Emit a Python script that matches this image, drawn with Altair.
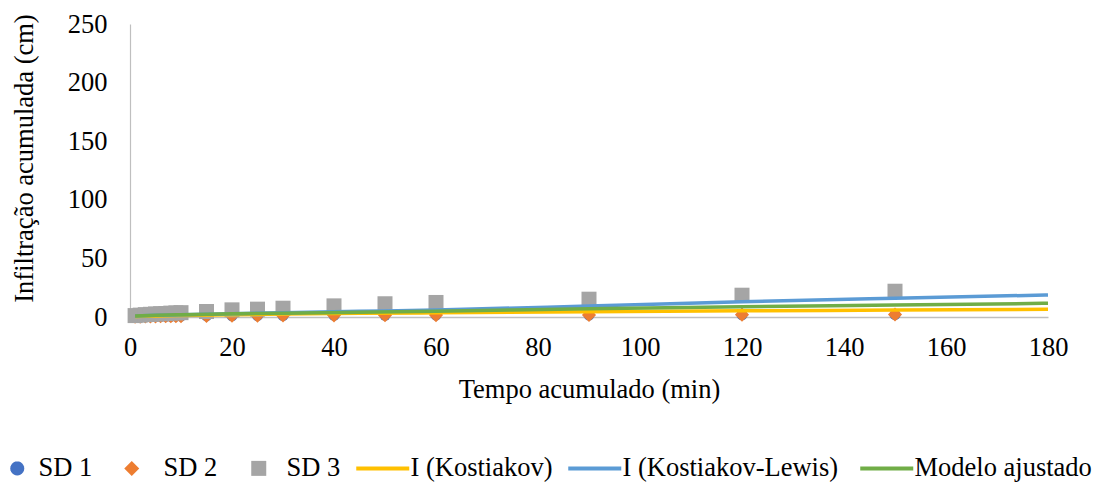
import math
import altair as alt
import pandas as pd

# ---- data ----
t_obs = [1, 2, 3, 4, 5, 6, 7, 8, 9, 10, 15, 20, 25, 30, 40, 50, 60, 90, 120, 150]
sd1 = [0.1, 0.2, 0.3, 0.4, 0.4, 0.5, 0.6, 0.6, 0.7, 0.7, 0.9, 1.0, 1.1, 1.2, 1.3, 1.4, 1.5, 1.7, 1.9, 2.0]
sd2 = [0.2, 0.3, 0.4, 0.5, 0.5, 0.6, 0.7, 0.7, 0.8, 0.8, 1.0, 1.1, 1.2, 1.3, 1.4, 1.5, 1.6, 1.8, 2.0, 2.1]
sd3 = [1.2, 1.6, 2.0, 2.3, 2.6, 2.8, 3.0, 3.3, 3.5, 3.7, 4.7, 6.1, 6.7, 7.5, 9.5, 11.3, 12.4, 15.2, 18.6, 22.0]

t_fit = [1, 5, 10, 20, 30, 45, 60, 90, 120, 150, 180]
kostiakov = [0.4, 0.9, 1.35, 2.0, 2.5, 3.1, 3.6, 4.5, 5.3, 5.9, 6.6]
kostiakov_lewis = [0.8, 1.4, 1.9, 2.8, 3.6, 4.8, 6.0, 9.4, 13.0, 16.0, 18.8]
modelo = [0.9, 1.5, 2.0, 2.7, 3.3, 4.1, 5.0, 7.1, 8.8, 10.2, 11.7]

series = ["SD 1", "SD 2", "SD 3", "I (Kostiakov)", "I (Kostiakov-Lewis)", "Modelo ajustado"]
colors = ["#4472C4", "#ED7D31", "#A5A5A5", "#FFC000", "#5B9BD5", "#70AD47"]

x_ticks = [0, 20, 40, 60, 80, 100, 120, 140, 160, 180]
y_ticks = [0, 50, 100, 150, 200, 250]

FONT = "Liberation Serif, Times New Roman, serif"
FS = 26.5

obs = pd.DataFrame({
    "t": t_obs * 3,
    "v": sd1 + sd2 + sd3,
    "serie": ["SD 1"] * len(t_obs) + ["SD 2"] * len(t_obs) + ["SD 3"] * len(t_obs),
})
fit = pd.DataFrame({
    "t": t_fit * 3,
    "v": kostiakov + kostiakov_lewis + modelo,
    "serie": ["I (Kostiakov)"] * len(t_fit) + ["I (Kostiakov-Lewis)"] * len(t_fit) + ["Modelo ajustado"] * len(t_fit),
})
legend_df = pd.DataFrame({"t": [1] * 6, "v": [1] * 6, "serie": series})

xscale = alt.Scale(domain=[0, 180], nice=False)
yscale = alt.Scale(domain=[0, 250], nice=False)

common_axis = dict(ticks=False, grid=False, labelFlush=False, labelFont=FONT, labelFontSize=FS,
                   labelColor="#000000", titleFont=FONT, titleFontSize=FS, titleColor="#000000",
                   titleFontWeight="normal", domainColor="#BFBFBF")

X = alt.X("t:Q", scale=xscale, title="Tempo acumulado (min)",
          axis=alt.Axis(values=x_ticks, labelPadding=17, titlePadding=16, domainWidth=1.5,
                        **common_axis))
Y = alt.Y("v:Q", scale=yscale, title="Infiltração acumulada (cm)",
          axis=alt.Axis(values=y_ticks, labelPadding=23, titlePadding=29, domainWidth=1.2,
                        titleY=134, **common_axis))

base_obs = alt.Chart(obs)
p1 = base_obs.transform_filter(alt.datum.serie == "SD 1").mark_point(
    shape="circle", filled=True, size=120, opacity=1, color=colors[0]).encode(x=X, y=Y)
p2 = base_obs.transform_filter(alt.datum.serie == "SD 2").mark_point(
    shape="diamond", filled=True, size=200, opacity=1, color=colors[1]).encode(x=X, y=Y)
p3 = base_obs.transform_filter(alt.datum.serie == "SD 3").mark_point(
    shape="square", filled=True, size=225, opacity=1, color=colors[2]).encode(x=X, y=Y)

lines = alt.Chart(fit).mark_line(strokeWidth=3.5, interpolate="monotone").encode(
    x=X, y=Y,
    stroke=alt.Stroke("serie:N", scale=alt.Scale(domain=series[3:], range=colors[3:]), legend=None),
)

# legend glyph paths (style only)
cx, r = -0.8, 1.4
circle_path = "M-3.2,0M" + "L".join(
    f"{cx + r * math.cos(2 * math.pi * k / 24):.3f},{r * math.sin(2 * math.pi * k / 24):.3f}"
    for k in range(24)) + "Z"
shape_paths = [
    circle_path,
    "M-7.6,0M-4.4,0L-2.9,-1.5L-1.4,0L-2.9,1.5Z",
    "M-7.2,0M-3.6,-1.5H-0.6V1.5H-3.6Z",
    "M-7.4,-0.4H3.2V0.4H-7.4Z",
    "M-7.4,-0.4H3.2V0.4H-7.4Z",
    "M-8.6,0M-7.4,-0.4H3.2V0.4H-7.4Z",
]

leg = alt.Legend(orient="none", legendX=-122, legendY=431, direction="horizontal",
                 columns=6, title=None, symbolSize=100, symbolStrokeWidth=0,
                 symbolOpacity=1, labelFont=FONT, labelFontSize=FS, labelColor="#000000",
                 labelOffset=4, columnPadding=15, labelLimit=400)

legend_layer = alt.Chart(legend_df).mark_point(filled=True, opacity=0).encode(
    x=X, y=Y,
    color=alt.Color("serie:N", scale=alt.Scale(domain=series, range=colors), legend=leg),
    shape=alt.Shape("serie:N", scale=alt.Scale(domain=series, range=shape_paths), legend=leg),
)

chart = alt.layer(legend_layer, p1, p2, p3, lines).properties(
    width=918, height=293,
    autosize=alt.AutoSizeParams(type="none"),
    padding={"left": 122, "top": 16, "right": 46, "bottom": 166},
).configure_view(stroke=None)

chart.save("out.html", embed_options={"renderer": "svg", "actions": False})
